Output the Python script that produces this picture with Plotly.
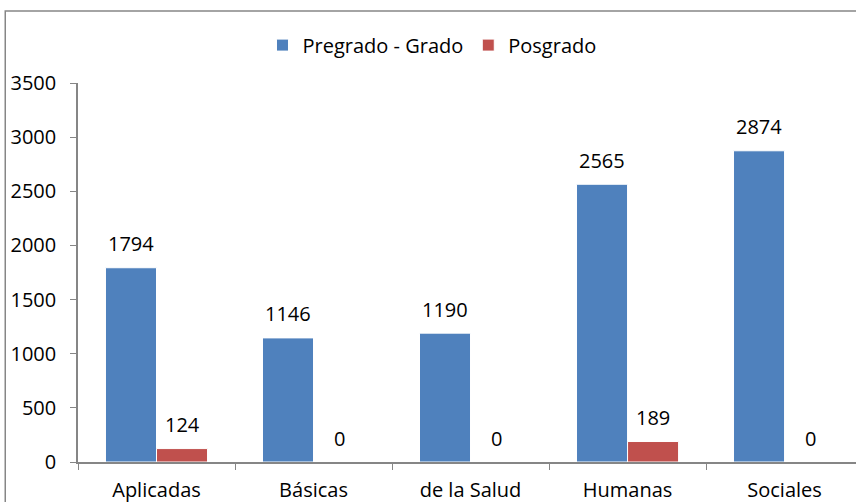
import plotly.graph_objects as go

categorias = ["Aplicadas", "Básicas", "de la Salud", "Humanas", "Sociales"]
pregrado = [1794, 1146, 1190, 2565, 2874]
posgrado = [124, 0, 0, 189, 0]

AZUL = "#4F81BD"
ROJO = "#C0504D"
GRIS = "#868686"
FUENTE = "Open Sans"

fig = go.Figure()
fig.add_trace(go.Bar(x=categorias, y=pregrado, name="Pregrado - Grado",
                     marker=dict(color=AZUL, line=dict(color="white", width=1))))
fig.add_trace(go.Bar(x=categorias, y=posgrado, name="Posgrado",
                     marker=dict(color=ROJO, line=dict(color="white", width=1))))

# etiquetas de datos encima de cada barra, como en Excel
for serie, desplaz in ((pregrado, -25.5), (posgrado, 25.5)):
    for cat, val in zip(categorias, serie):
        fig.add_annotation(x=cat, y=val, text=str(val), showarrow=False,
                           xshift=desplaz, yshift=24,
                           font=dict(family=FUENTE, size=20, color="black"))

# marco del area del grafico
fig.add_shape(type="rect", xref="paper", yref="paper",
              x0=-0.0935, x1=1.02, y0=-0.3, y1=1.19,
              line=dict(color=GRIS, width=1.5), layer="below")

fig.update_layout(
    width=856, height=502,
    margin=dict(l=78, r=0, t=83, b=40),
    paper_bgcolor="white", plot_bgcolor="white",
    barmode="group", bargap=0.35, bargroupgap=0,
    font=dict(family=FUENTE, size=20, color="black"),
    showlegend=True,
    legend=dict(orientation="h", x=0.455, xanchor="center", y=1.10, yanchor="middle",
                font=dict(size=20), itemwidth=30),
)
fig.update_xaxes(range=[-0.5, 4.455], showline=True, linecolor=GRIS, linewidth=1.5,
                 ticks="outside", tickson="boundaries", ticklen=6, tickcolor=GRIS,
                 showgrid=False, fixedrange=True, ticklabelstandoff=9)
fig.update_yaxes(range=[0, 3500], dtick=500, showline=True, linecolor=GRIS, linewidth=1.5,
                 ticks="outside", ticklen=6, tickcolor=GRIS, showgrid=False,
                 zeroline=False, ticklabelstandoff=10, fixedrange=True)

fig.write_html("out.html", config={"displayModeBar": False},
               post_script="document.body.style.margin='0';document.body.style.overflow='hidden';")
